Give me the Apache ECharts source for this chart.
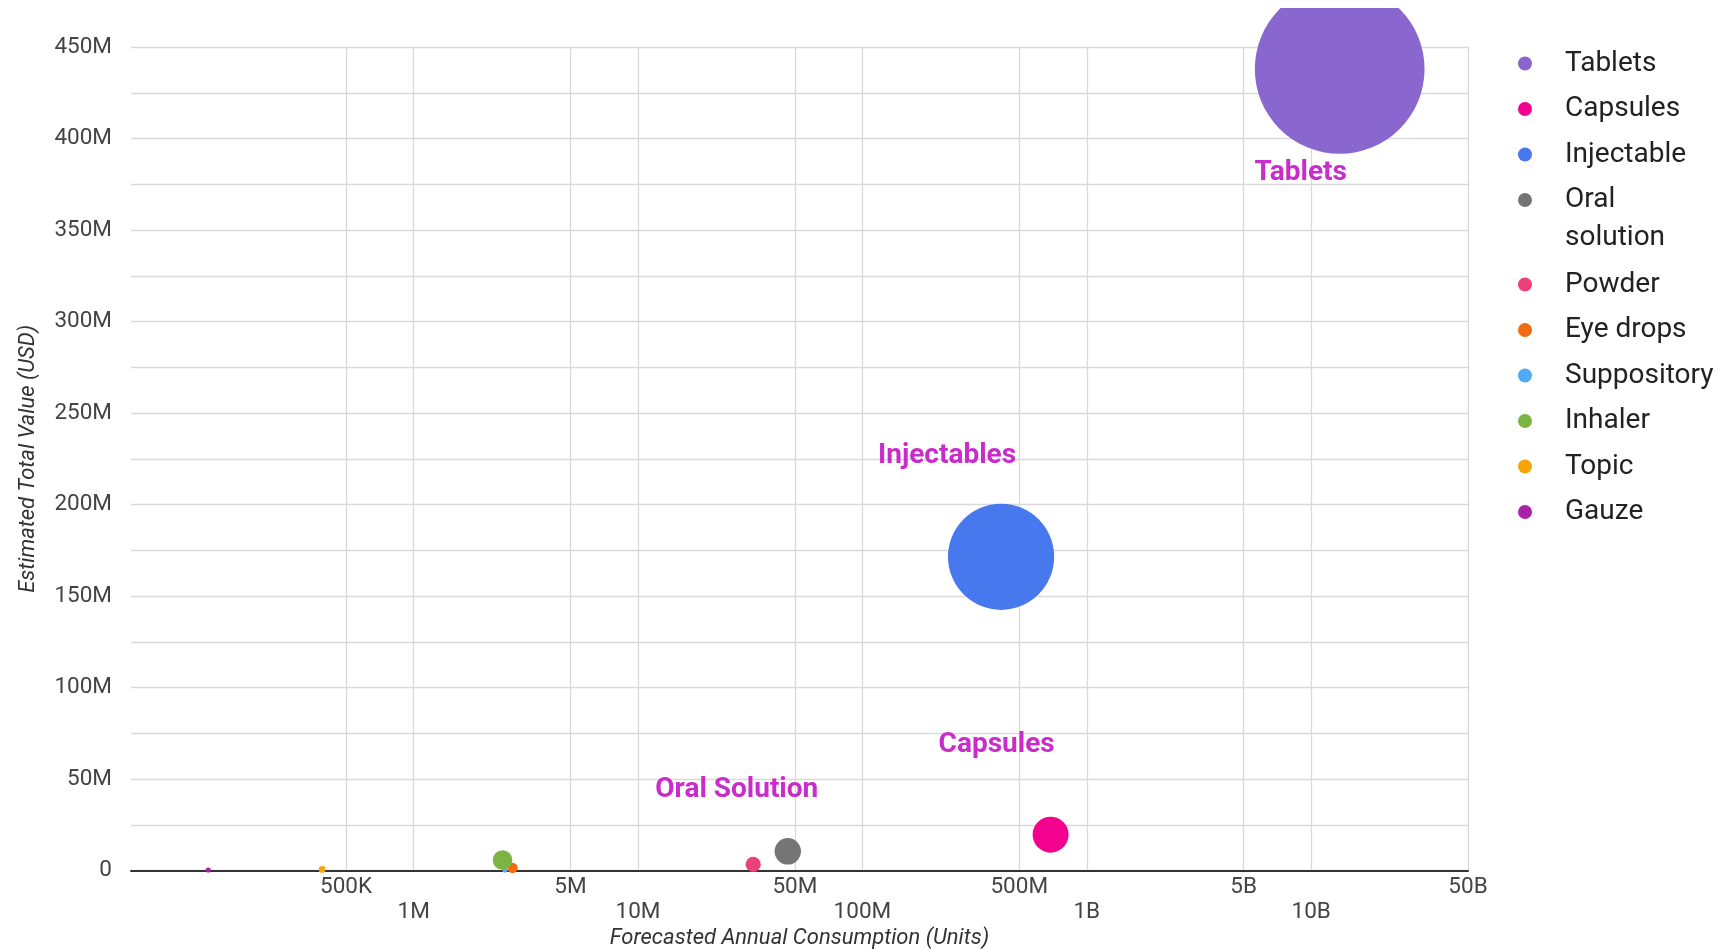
<!DOCTYPE html>
<html><head><meta charset="utf-8">
<script src="https://cdn.jsdelivr.net/npm/echarts@6/dist/echarts.min.js"></script>
<style>html,body{margin:0;padding:0;background:#fff}#c{width:1722px;height:949px}</style>
</head><body><div id="c"></div>
<script>
// ---- data ----
const categories = ['Tablets','Capsules','Injectable','Oral solution','Powder','Eye drops','Suppository','Inhaler','Topic','Gauze'];
const consumption = [13.4e9, 690e6, 415e6, 46.5e6, 32.6e6, 2.76e6, 2.55e6, 2.49e6, 391e3, 121.6e3];
const totalValue = [438e6, 19.7e6, 171.5e6, 10.6e6, 3.5e6, 1.6e6, 0.4e6, 5.85e6, 0.7e6, 0.4e6];
const colors = ['#8a66cf','#f2028f','#4778ee','#757575','#ec407a','#f26b10','#50aaf4','#7cb342','#f8a50c','#a923a8'];
const xTicksTop = [5e5, 5e6, 5e7, 5e8, 5e9, 5e10];
const xTicksTopLabels = ['500K','5M','50M','500M','5B','50B'];
const xTicksBottom = [1e6, 1e7, 1e8, 1e9, 1e10];
const xTicksBottomLabels = ['1M','10M','100M','1B','10B'];
const xMin = 55000, xMax = 5e10;
const yMin = 0, yMax = 450e6, yStep = 25e6, yLabelStep = 50e6;
const annotationText = {'Tablets':'Tablets','Injectable':'Injectables','Capsules':'Capsules','Oral solution':'Oral Solution'};
const xTitle = 'Forecasted Annual Consumption (Units)';
const yTitle = 'Estimated Total Value (USD)';

// ---- styles ----
const annotationOffset = {'Tablets':[-39,104],'Injectable':[-54,-101],'Capsules':[-54,-90],'Oral solution':[-51,-61]};
const FONT = 'Roboto';
const lg = Math.log10;

function labelFor(v, ticks, labels){
  for (let i=0;i<ticks.length;i++) if (Math.abs(lg(ticks[i])-v) < 1e-6) return labels[i];
  return '';
}

const series = categories.map((name,i)=>({
  name, type:'scatter',
  data:[[lg(consumption[i]), totalValue[i]]],
  symbolSize: d => Math.max(5, 8.11*Math.sqrt(d[1]/1e6)),
  itemStyle:{color:colors[i], opacity:1},
  emphasis:{disabled:true},
  label: annotationText[name] ? {
    show:true, position:'inside', offset:annotationOffset[name],
    formatter: annotationText[name], color:'#c92ccb', fontSize:28, fontWeight:'bold', fontFamily:FONT
  } : {show:false},
  z: 3
}));

const chart = echarts.init(document.getElementById('c'), null, {renderer:'canvas'});
chart.setOption({
  animation:false,
  backgroundColor:'#fff',
  textStyle:{fontFamily:FONT},
  color: colors,
  grid:{left:131, right:254, top:47, bottom:78.3, outerBoundsMode:'none', containLabel:false},
  xAxis:[{
    type:'value', min:lg(xMin), max:lg(xMax), position:'bottom',
    axisLine:{show:true, onZero:false, lineStyle:{color:'#333', width:2}},
    axisTick:{show:false, customValues: xTicksTop.concat(xTicksBottom).map(lg)},
    splitLine:{show:true, lineStyle:{color:'#d9d9d9', width:1.3}},
    axisLabel:{customValues: xTicksTop.map(lg), formatter: v=>labelFor(v, xTicksTop, xTicksTopLabels),
      margin:5, fontSize:22.5, color:'#444', fontFamily:FONT},
    name:xTitle, nameLocation:'middle', nameGap:57,
    nameTextStyle:{fontStyle:'italic', fontSize:22, color:'#333', fontFamily:FONT}
  },{
    type:'value', min:lg(xMin), max:lg(xMax), position:'bottom',
    axisLine:{show:false}, axisTick:{show:false, customValues: xTicksBottom.map(lg)}, splitLine:{show:false},
    axisLabel:{customValues: xTicksBottom.map(lg), formatter: v=>labelFor(v, xTicksBottom, xTicksBottomLabels),
      margin:30, fontSize:22.5, color:'#444', fontFamily:FONT}
  }],
  yAxis:{
    type:'value', min:yMin, max:yMax, interval:yStep,
    axisLine:{show:false}, axisTick:{show:false},
    splitLine:{show:true, lineStyle:{color:'#d9d9d9', width:1.3}},
    axisLabel:{margin:19, fontSize:22.5, color:'#444', fontFamily:FONT,
      formatter: v => (Math.round(v) % yLabelStep === 0) ? (v===0 ? '0' : (v/1e6)+'M') : ''},
    name:yTitle, nameLocation:'middle', nameGap:92,
    nameTextStyle:{fontStyle:'italic', fontSize:22, color:'#333', fontFamily:FONT}
  },
  legend:{
    orient:'vertical', left:1518, top:45, padding:0, itemWidth:14, itemHeight:14, itemGap:8.5, icon:'circle',
    selectedMode:false,
    data: categories.map(n => n==='Oral solution' ? {name:n, textStyle:{padding:[0,0,-39,28]}} : {name:n}),
    formatter: n => n==='Oral solution' ? '{r|Oral}\n{s|solution}\n{e| }' : '{r|' + n + '}',
    textStyle:{fontSize:28, lineHeight:37, color:'#222', fontFamily:FONT, padding:[0,0,0,28],
      rich:{r:{fontSize:28, lineHeight:37, color:'#222', fontFamily:FONT},
            s:{fontSize:28, lineHeight:38, color:'#222', fontFamily:FONT},
            e:{fontSize:1, lineHeight:1}}}
  },
  graphic:[{type:'rect', shape:{x:0,y:0,width:1500,height:8}, style:{fill:'#fff'}, z:100, silent:true}],
  series
});
</script></body></html>
